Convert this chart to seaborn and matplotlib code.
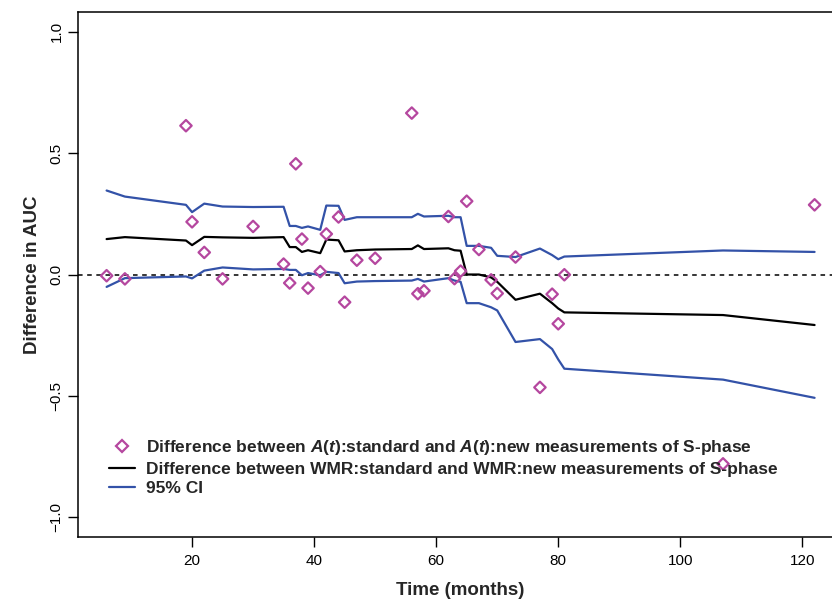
import matplotlib
matplotlib.use("Agg")
import matplotlib.pyplot as plt
import seaborn as sns

# === Data ===
months = [6, 9, 19, 20, 22, 25, 30, 35, 36, 37, 38, 39, 41, 42, 44, 45, 47, 50,
          56, 57, 58, 62, 63, 64, 65, 67, 69, 70, 73, 77, 79, 80, 81, 107, 122]

# A(t):standard - A(t):new (diamonds)
diff_at = [-0.005, -0.018, 0.613, 0.217, 0.091, -0.018, 0.198, 0.043, -0.035, 0.456,
           0.146, -0.056, 0.012, 0.167, 0.237, -0.114, 0.059, 0.067, 0.665, -0.079,
           -0.067, 0.239, -0.017, 0.014, 0.302, 0.103, -0.022, -0.078, 0.072, -0.465,
           -0.081, -0.203, -0.001, -0.78, 0.287]

# WMR:standard - WMR:new (black line)
diff_wmr = [0.146, 0.154, 0.140, 0.121, 0.155, 0.153, 0.151, 0.154, 0.113, 0.113,
            0.093, 0.100, 0.088, 0.144, 0.141, 0.095, 0.100, 0.103, 0.105, 0.120,
            0.105, 0.108, 0.100, 0.098, 0.0, 0.0, -0.012, -0.03, -0.104, -0.079,
            -0.118, -0.14, -0.156, -0.167, -0.208]

# 95% CI (blue lines)
ci_upper = [0.346, 0.321, 0.287, 0.257, 0.292, 0.280, 0.278, 0.279, 0.200, 0.200,
            0.192, 0.198, 0.184, 0.284, 0.283, 0.225, 0.236, 0.236, 0.236, 0.250,
            0.239, 0.242, 0.236, 0.236, 0.118, 0.118, 0.110, 0.077, 0.072, 0.107,
            0.080, 0.063, 0.074, 0.099, 0.093]
ci_lower = [-0.051, -0.015, -0.008, -0.016, 0.016, 0.029, 0.021, 0.023, 0.019, 0.019,
            -0.003, 0.006, -0.003, 0.011, 0.006, -0.036, -0.029, -0.027, -0.025, -0.018,
            -0.029, -0.015, -0.025, -0.030, -0.118, -0.118, -0.135, -0.148, -0.278, -0.266,
            -0.307, -0.35, -0.388, -0.433, -0.508]

x_ticks = [20, 40, 60, 80, 100, 120]
y_ticks = [-1.0, -0.5, 0.0, 0.5, 1.0]

# === Style ===
sns.set_style("ticks")
plt.rcParams["font.family"] = ["Liberation Sans", "DejaVu Sans"]
plt.rcParams["mathtext.fontset"] = "custom"
plt.rcParams["mathtext.it"] = "Liberation Sans:italic:bold"
plt.rcParams["mathtext.rm"] = "Liberation Sans:bold"

pink = "#B5479F"
blue = "#3352A8"

fig = plt.figure(figsize=(8.32, 6.02), dpi=100)
ax = fig.add_axes([0.0941, 0.1085, 0.919, 0.871])

ax.axhline(0, color="black", lw=1.1, ls=(0, (3, 3)), zorder=1)

sns.lineplot(x=months, y=ci_upper, color=blue, lw=1.6, ax=ax, zorder=2)
sns.lineplot(x=months, y=ci_lower, color=blue, lw=1.6, ax=ax, zorder=2)
sns.lineplot(x=months, y=diff_wmr, color="black", lw=1.6, ax=ax, zorder=3)
sns.scatterplot(x=months, y=diff_at, marker="D", s=34, facecolor="none",
                edgecolor=pink, linewidth=1.6, ax=ax, zorder=4)

ax.set_xlim(1.36, 126.64)
ax.set_ylim(-1.08, 1.08)
ax.set_xticks(x_ticks)
ax.set_xticklabels([str(t) for t in x_ticks], fontsize=11)
ax.set_yticks(y_ticks)
ax.set_yticklabels([f"{t:.1f}".replace("-", "\u2212") for t in y_ticks],
                   rotation=90, va="center", fontsize=11)
ax.tick_params(direction="out", length=7, width=1, colors="black")
ax.tick_params(axis="x", pad=5.7)
ax.tick_params(axis="y", pad=3.5)

for s in ax.spines.values():
    s.set_linewidth(1.1)
    s.set_color("black")

ax.set_xlabel("Time (months)", fontsize=13.5, fontweight="bold", labelpad=10)
ax.set_ylabel("Difference in AUC", fontsize=13.5, fontweight="bold", labelpad=6)

# legend
h_pt = plt.Line2D([], [], ls="none", marker="D", ms=5.8, mfc="none", mec=pink, mew=1.6)
h_blk = plt.Line2D([], [], color="black", lw=1.6)
h_blu = plt.Line2D([], [], color=blue, lw=1.6)
labels = [
    r"Difference between $A$($t$):standard and $A$($t$):new measurements of S-phase",
    "Difference between WMR:standard and WMR:new measurements of S-phase",
    "95% CI",
]
leg = ax.legend([h_pt, h_blk, h_blu], labels, loc="upper left",
                bbox_to_anchor=(0.031, 0.2006), frameon=False, handlelength=1.5,
                handletextpad=0.63, labelspacing=0.25, borderaxespad=0,
                prop={"size": 12.5, "weight": "bold"})

fig.savefig("out.png", dpi=100)
